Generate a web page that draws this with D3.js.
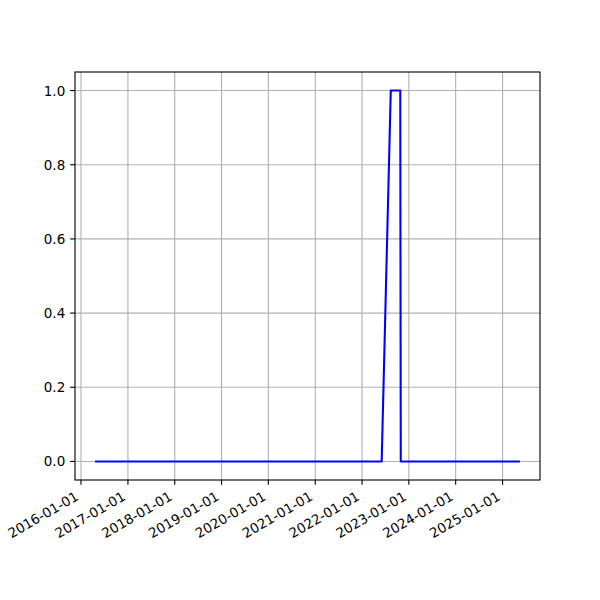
<!DOCTYPE html>
<html>
<head>
<meta charset="utf-8">
<script src="https://cdn.jsdelivr.net/npm/d3@7"></script>
<style>
  html, body { margin: 0; padding: 0; background: #fff; }
  svg { display: block; }
  text { font-family: "DejaVu Sans", sans-serif; font-size: 13.5px; fill: #000; }
</style>
</head>
<body>
<svg id="chart" width="600" height="600"></svg>
<script>
// ---- data ----
const dates = ["2016-04-28", "2022-06-03", "2022-08-13", "2022-10-26", "2022-10-30", "2025-05-08"];
const values = [0, 0, 1, 1, 0, 0];
const xTickLabels = ["2016-01-01","2017-01-01","2018-01-01","2019-01-01","2020-01-01","2021-01-01","2022-01-01","2023-01-01","2024-01-01","2025-01-01"];
const yTicks = [0.0, 0.2, 0.4, 0.6, 0.8, 1.0];

const parse = d3.utcParse("%Y-%m-%d");
const points = dates.map((d, i) => ({ date: parse(d), value: values[i] }));
const xTickDates = xTickLabels.map(parse);

const svg = d3.select("#chart");
const L = 75, R = 540, T = 72, B = 480;
const pt = 100 / 72;
const tickLen = 3.5 * pt, pad = 3.5 * pt;

// matplotlib-style 5% margins
const xExt = d3.extent(points, d => +d.date);
const xPad = (xExt[1] - xExt[0]) * 0.05;
const x = d3.scaleUtc().domain([new Date(xExt[0] - xPad), new Date(xExt[1] + xPad)]).range([L, R]);
const yExt = d3.extent(values);
const yPad = (yExt[1] - yExt[0]) * 0.05;
const y = d3.scaleLinear().domain([yExt[0] - yPad, yExt[1] + yPad]).range([B, T]);

// grid
const grid = svg.append("g");
grid.selectAll("line.gx").data(xTickDates).join("line")
  .attr("x1", d => x(d)).attr("x2", d => x(d)).attr("y1", T).attr("y2", B)
  .attr("stroke", "#b0b0b0").attr("stroke-width", 0.8 * pt);
grid.selectAll("line.gy").data(yTicks).join("line")
  .attr("y1", d => y(d)).attr("y2", d => y(d)).attr("x1", L).attr("x2", R)
  .attr("stroke", "#b0b0b0").attr("stroke-width", 0.8 * pt);

// line
const line = d3.line().x(d => x(d.date)).y(d => y(d.value));
svg.append("path").datum(points)
  .attr("d", line).attr("fill", "none").attr("stroke", "#0000ff").attr("stroke-width", 1.5 * pt)
  .attr("stroke-linejoin", "round").attr("stroke-linecap", "square");

// x axis ticks and labels
const fmt = d3.utcFormat("%Y-%m-%d");
const xAxisG = svg.append("g");
xAxisG.selectAll("line").data(xTickDates).join("line")
  .attr("x1", d => x(d)).attr("x2", d => x(d)).attr("y1", B).attr("y2", B + tickLen)
  .attr("stroke", "#000").attr("stroke-width", 0.8 * pt);
xAxisG.selectAll("text").data(xTickDates).join("text")
  .attr("text-anchor", "end")
  .attr("transform", d => `translate(${x(d) - 1.5},${B + tickLen + pad + 9.5}) rotate(-30)`)
  .text(d => fmt(d));

// y axis ticks and labels
const yAxisG = svg.append("g");
yAxisG.selectAll("line").data(yTicks).join("line")
  .attr("x1", L - tickLen).attr("x2", L).attr("y1", d => y(d)).attr("y2", d => y(d))
  .attr("stroke", "#000").attr("stroke-width", 0.8 * pt);
yAxisG.selectAll("text").data(yTicks).join("text")
  .attr("text-anchor", "end").attr("dominant-baseline", "central")
  .attr("x", L - tickLen - pad).attr("y", d => y(d))
  .text(d => d3.format(".1f")(d));

// spines
svg.append("rect").attr("x", L).attr("y", T).attr("width", R - L).attr("height", B - T)
  .attr("fill", "none").attr("stroke", "#000").attr("stroke-width", 0.8 * pt);
</script>
</body>
</html>
